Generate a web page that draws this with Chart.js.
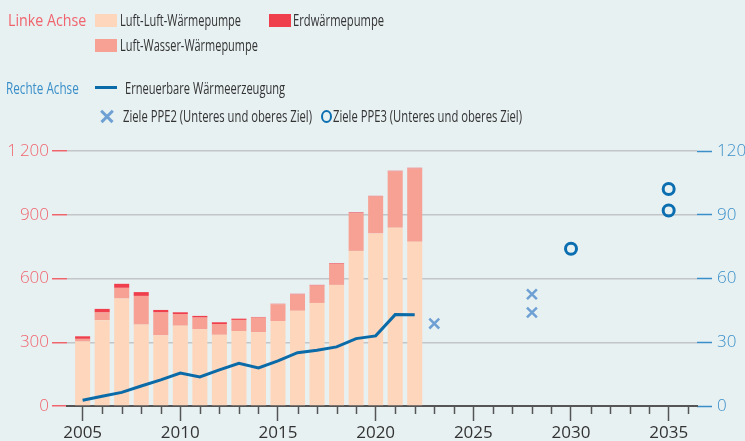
<!DOCTYPE html>
<html>
<head>
<meta charset="utf-8">
<script src="https://cdn.jsdelivr.net/npm/chart.js@4"></script>
<style>
  html, body { margin: 0; padding: 0; background: #e8f1f2; }
  #wrap { position: relative; width: 745px; height: 441px; overflow: hidden; }
  canvas { position: absolute; left: 0; top: 0; }
  .lg { position: absolute; font-family: "Open Sans", sans-serif; font-size: 17px; color: #333; white-space: nowrap; transform-origin: 0 50%; line-height: 20px; }
  .sw { position: absolute; width: 22px; height: 13px; }
  .xm { position: absolute; width: 14px; height: 14px; }
  .xm:before, .xm:after { content: ''; position: absolute; left: -1px; top: 6px; width: 16px; height: 2.5px; background: #6ea0d3; }
  .xm:before { transform: rotate(45deg); }
  .xm:after { transform: rotate(-45deg); }
</style>
</head>
<body>
<div id="wrap">
  <canvas id="chart" width="745" height="441"></canvas>
  <div class="lg" data-w="78" style="left:8px;top:10px;color:#f0646e">Linke Achse</div>
  <div class="sw" style="left:95px;top:14px;background:#fdd6bb"></div>
  <div class="lg" data-w="121" style="left:120px;top:10px">Luft-Luft-Wärmepumpe</div>
  <div class="sw" style="left:269px;top:14px;background:#ef3f4c"></div>
  <div class="lg" data-w="91" style="left:293px;top:10px">Erdwärmepumpe</div>
  <div class="sw" style="left:95px;top:39px;background:#f6a193"></div>
  <div class="lg" data-w="138" style="left:120px;top:35px">Luft-Wasser-Wärmepumpe</div>

  <div class="lg" data-w="73" style="left:6px;top:78px;color:#3a8fc9">Rechte Achse</div>
  <div class="sw" style="left:95px;top:86px;height:3px;background:#0b6aa8"></div>
  <div class="lg" data-w="160" style="left:125px;top:78px">Erneuerbare Wärmeerzeugung</div>
  <div class="xm" style="left:100px;top:109px"></div>
  <div class="lg" data-w="189" style="left:123px;top:106px">Ziele PPE2 (Unteres und oberes Ziel)</div>
  <div style="position:absolute;left:321px;top:110px;width:7px;height:9px;border:2.5px solid #0b6eb0;border-radius:50%"></div>
  <div class="lg" data-w="189" style="left:333px;top:106px">Ziele PPE3 (Unteres und oberes Ziel)</div>
</div>
<script>
// Jahre und Werte (linke Achse: Absatz, rechte Achse: Wärmeerzeugung)
const years = [2005, 2006, 2007, 2008, 2009, 2010, 2011, 2012, 2013, 2014, 2015, 2016, 2017, 2018, 2019, 2020, 2021, 2022];
const luftLuft = [303, 404, 506, 383, 333, 378, 361, 335, 353, 347, 400, 448, 485, 570, 730, 812, 839, 773];
const luftWasser = [13, 36, 50, 135, 107, 55, 55, 51, 52, 69, 79, 77, 82, 99, 178, 174, 265, 345];
const erdwaerme = [12, 17, 19, 18, 12, 8, 8, 8, 6, 3, 2, 3, 3, 3, 3, 3, 3, 3];
const erneuerbar = [2.7, 4.6, 6.4, 9.4, 12.3, 15.5, 13.7, 17.0, 20.1, 17.9, 21.2, 25.1, 26.2, 27.8, 31.7, 33.0, 43.0, 42.9];

const ppe2Years = [2023, 2028, 2028];
const ppe2Values = [38.8, 44.0, 52.6];
const ppe3Years = [2030, 2035, 2035];
const ppe3Values = [74.0, 92.0, 102.1];

const leftTicks = [0, 300, 600, 900, 1200];
const rightTicks = [0, 30, 60, 90, 120];

const pts = (xs, ys) => xs.map((x, i) => ({ x: x, y: ys[i] }));

// Legendentexte auf Zielbreite bringen (schmale Schrift im Original)
document.querySelectorAll('.lg').forEach(el => {
  const w = +el.dataset.w;
  if (w) el.style.transform = 'scaleX(' + (w / el.scrollWidth) + ')';
});

const minorTicks = {
  id: 'minorTicks',
  afterDraw(chart) {
    const x = chart.scales.x, ctx = chart.ctx;
    ctx.save();
    ctx.strokeStyle = '#555';
    ctx.lineWidth = 1.5;
    for (let yr = 2005; yr <= 2036; yr++) {
      if (yr % 5 === 0) continue;
      const px = Math.round(x.getPixelForValue(yr)) + 0.5;
      ctx.beginPath();
      ctx.moveTo(px, x.top);
      ctx.lineTo(px, x.top + 8);
      ctx.stroke();
    }
    ctx.restore();
  }
};

const barBase = { type: 'bar', yAxisID: 'y', stack: 'a', order: 3, barPercentage: 0.77, categoryPercentage: 1, borderWidth: 0 };

new Chart(document.getElementById('chart'), {
  data: {
    datasets: [
      Object.assign({ label: 'Luft-Luft-Wärmepumpe', data: pts(years, luftLuft), backgroundColor: '#fdd6bb' }, barBase),
      Object.assign({ label: 'Luft-Wasser-Wärmepumpe', data: pts(years, luftWasser), backgroundColor: '#f6a193' }, barBase),
      Object.assign({ label: 'Erdwärmepumpe', data: pts(years, erdwaerme), backgroundColor: '#ef3f4c' }, barBase),
      {
        type: 'line', label: 'Erneuerbare Wärmeerzeugung', yAxisID: 'y2', order: 1,
        data: pts(years, erneuerbar), borderColor: '#0b6aa8', borderWidth: 3,
        pointRadius: 0, tension: 0, fill: false
      },
      {
        type: 'scatter', label: 'Ziele PPE2', yAxisID: 'y2', order: 0,
        data: pts(ppe2Years, ppe2Values), pointStyle: 'crossRot', pointRadius: 7,
        borderColor: '#6ea0d3', borderWidth: 2.5
      },
      {
        type: 'scatter', label: 'Ziele PPE3', yAxisID: 'y2', order: 0,
        data: pts(ppe3Years, ppe3Values), pointStyle: 'circle', pointRadius: 5.5,
        borderColor: '#0b6eb0', backgroundColor: 'rgba(0,0,0,0)', borderWidth: 3
      }
    ]
  },
  options: {
    responsive: false,
    animation: false,
    layout: { padding: { top: 151, left: 6, right: 0, bottom: 0 } },
    plugins: { legend: { display: false }, tooltip: { enabled: false } },
    scales: {
      x: {
        type: 'linear', stacked: true, offset: false, min: 2004.2, max: 2036.45,
        afterBuildTicks(scale) {
          scale.ticks = [];
          for (let yr = 2005; yr <= 2035; yr += 5) scale.ticks.push({ value: yr });
        },
        ticks: { color: '#333', font: { family: 'Open Sans', size: 17 }, padding: 2, maxRotation: 0, autoSkip: false,
          callback: v => String(v) },
        grid: { offset: false, drawOnChartArea: false, tickLength: 15, tickColor: '#555', tickWidth: 1.5 },
        border: { color: '#555', width: 2 },
        afterFit(scale) { scale.height = 35; }
      },
      y: {
        position: 'left', stacked: true, min: 0, max: 1200,
        afterBuildTicks(scale) { scale.ticks = leftTicks.map(v => ({ value: v })); },
        ticks: { color: '#f0646e', font: { family: 'Open Sans', size: 17, weight: 300 }, padding: 3,
          callback: v => v === 1200 ? '1\u2009200' : String(v) },
        grid: { color: ctx => ctx.tick && ctx.tick.value === 0 ? 'rgba(0,0,0,0)' : '#c2c6c8', lineWidth: 1.5,
          tickLength: 15, tickColor: '#f0646e', tickWidth: 1.5 },
        border: { display: false },
        afterFit(scale) { scale.width = 61; }
      },
      y2: {
        position: 'right', min: 0, max: 120,
        afterBuildTicks(scale) { scale.ticks = rightTicks.map(v => ({ value: v })); },
        ticks: { color: '#3a8fc9', font: { family: 'Open Sans', size: 17, weight: 300 }, padding: 5 },
        grid: { drawOnChartArea: false, tickLength: 15, tickColor: '#3a8fc9', tickWidth: 1.5 },
        border: { display: false },
        afterFit(scale) { scale.width = 48; }
      }
    }
  },
  plugins: [minorTicks]
});
</script>
</body>
</html>
